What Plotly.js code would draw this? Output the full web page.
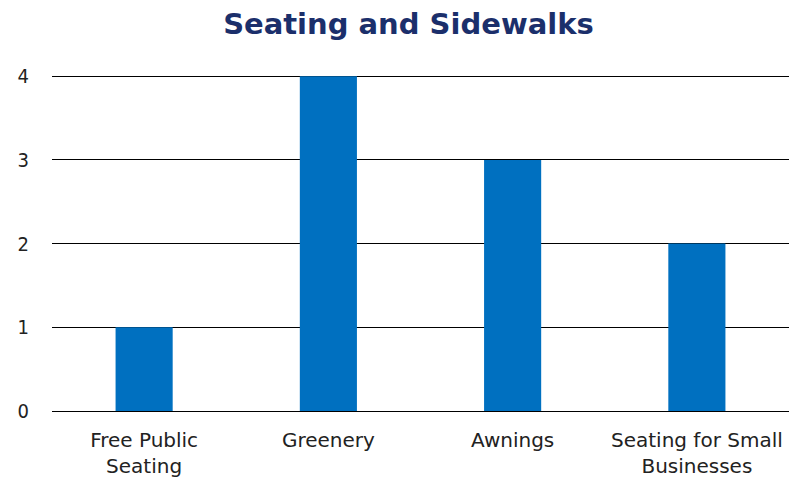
<!DOCTYPE html>
<html>
<head>
<meta charset="utf-8">
<script src="https://cdn.plot.ly/plotly-3.0.1.min.js"></script>
<style>html,body{margin:0;padding:0;background:#fff;}#chart{width:790px;height:484px;}</style>
</head>
<body>
<div id="chart"></div>
<script>
const categories = ["Free Public<br>Seating", "Greenery", "Awnings", "Seating for Small<br>Businesses"];
const values = [1, 4, 3, 2];
const yTicks = [0, 1, 2, 3, 4];

Plotly.newPlot('chart', [{
  type: 'bar',
  x: categories,
  y: values,
  marker: {color: '#0070C0'},
  hoverinfo: 'none'
}], {
  width: 790, height: 484,
  margin: {l: 52, r: 1, t: 72, b: 73},
  paper_bgcolor: '#ffffff', plot_bgcolor: '#ffffff',
  bargap: 0.69,
  title: {text: '<b>Seating and Sidewalks</b>', x: 0.517, xanchor: 'center', y: 0.95, yanchor: 'middle',
    font: {family: '"DejaVu Sans", sans-serif', size: 29, color: '#1B2F6B'}},
  xaxis: {showgrid: false, showline: true, linecolor: '#000', linewidth: 1, ticks: '', ticklabelstandoff: 11,
    tickfont: {family: '"DejaVu Sans", sans-serif', size: 20, color: '#222'}},
  yaxis: {range: [0, 4.05], tickvals: yTicks, showgrid: true, gridcolor: '#000', gridwidth: 1, zeroline: false,
    showline: false, ticks: '', ticklabelstandoff: 22,
    tickfont: {family: '"DejaVu Sans Condensed", "DejaVu Sans", sans-serif', size: 20, color: '#222'}},
  showlegend: false
}, {displayModeBar: false, staticPlot: true});
</script>
</body>
</html>
